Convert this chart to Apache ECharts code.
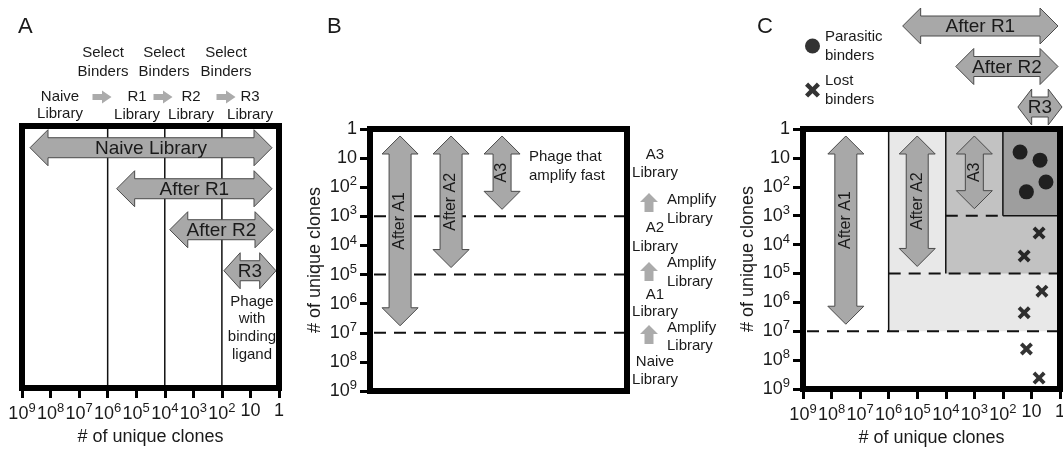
<!DOCTYPE html>
<html><head><meta charset="utf-8">
<script src="https://cdn.jsdelivr.net/npm/echarts@6/dist/echarts.min.js"></script>
<style>html,body{margin:0;padding:0;background:#fff}#c{width:1063px;height:449px}</style>
</head><body><div id="c"></div>
<script>
// ---------------- data ----------------
const tickValues = [1, 10, 1e2, 1e3, 1e4, 1e5, 1e6, 1e7, 1e8, 1e9];
const axisTitle = '# of unique clones';

// Panel A: selection rounds (range of unique clones)
const aArrowNames = ['Naive Library', 'After R1', 'After R2', 'R3'];
const aArrowFrom = [1e9, 1e6, 1e4, 1e2];
const aArrowTo = [1, 1, 1, 1];
const aRoundLines = [1e6, 1e4, 1e2];

// Panel B: amplification rounds
const bArrowNames = ['After A1', 'After A2', 'A3'];
const bArrowFrom = [1, 1, 1];
const bArrowTo = [1e7, 1e5, 1e3];
const bDashed = [1e3, 1e5, 1e7];

// Panel C: combined
const cRegionX = [1e6, 1e4, 1e2];      // left edge of each zone
const cRegionY = [1e7, 1e5, 1e3];      // bottom edge of each zone
const cHeaderNames = ['After R1', 'After R2', 'R3'];
const cHeaderFrom = [1e6, 1e4, 1e2];
const cHeaderTo = [1, 1, 1];
const cArrowNames = ['After A1', 'After A2', 'A3'];
const cArrowFrom = [1, 1, 1];
const cArrowTo = [1e7, 1e5, 1e3];
const parasiticX = [25, 5, 3.1, 15];
const parasiticY = [6.3, 12, 68, 150];
const lostX = [5.4, 18, 4.3, 18, 15, 5.4];
const lostY = [4000, 25000, 4.1e5, 2.3e6, 4.1e7, 4.2e8];

// ---------------- helpers ----------------
const lg = Math.log10;
const FONT = '"Liberation Sans", Arial, Helvetica, sans-serif';
const TXT = '#1a1a1a';
const ARROW_FILL = '#a8a8a8', ARROW_STROKE = '#4a4a4a';
const FLOW_FILL = '#ababab';
const CROSS = 'path://M0,2.5 L2.5,0 L6,3.5 L9.5,0 L12,2.5 L8.5,6 L12,9.5 L9.5,12 L6,8.5 L2.5,12 L0,9.5 L3.5,6 Z';

function hArrowPts(x1, x2, yc, bh, hh, hl) {
  return [[x1,yc],[x1+hl,yc-hh],[x1+hl,yc-bh],[x2-hl,yc-bh],[x2-hl,yc-hh],[x2,yc],
          [x2-hl,yc+hh],[x2-hl,yc+bh],[x1+hl,yc+bh],[x1+hl,yc+hh]];
}
function vArrowPts(xc, y1, y2, bw, hw, hl) {
  return [[xc,y1],[xc+hw,y1+hl],[xc+bw,y1+hl],[xc+bw,y2-hl],[xc+hw,y2-hl],[xc,y2],
          [xc-hw,y2-hl],[xc-bw,y2-hl],[xc-bw,y1+hl],[xc-hw,y1+hl]];
}
function fmtTick(v) {
  const e = Math.round(lg(tickValues[v]));
  if (e === 0) return '1';
  if (e === 1) return '10';
  return '10{s|' + e + '}';
}
function logAxis(gi, isX) {
  return {
    gridIndex: gi, type: 'value', min: 0, max: 9, interval: 1, inverse: true,
    axisLine: {show: false, onZero: false},
    axisTick: {show: true, length: 10, lineStyle: {color: '#000', width: 3}},
    splitLine: {show: false},
    axisLabel: {
      margin: isX ? 14 : 13, fontSize: 18, color: TXT, fontFamily: FONT,
      formatter: fmtTick,
      rich: {s: {fontSize: 13, padding: [0, 0, 11, 0], color: TXT, fontFamily: FONT}}
    },
    name: axisTitle, nameLocation: 'middle', nameGap: isX ? 39 : 46,
    nameTextStyle: {fontSize: 18, color: TXT, fontFamily: FONT}
  };
}
function frameSeries(gi) {
  return {
    type: 'custom', xAxisIndex: gi, yAxisIndex: gi, z: 20, silent: true, clip: false,
    data: [[0, 0]],
    renderItem: (p, api) => {
      const c = p.coordSys;
      return {type: 'rect', shape: {x: c.x, y: c.y, width: c.width, height: c.height},
              style: {fill: 'none', stroke: '#000', lineWidth: 6, lineJoin: 'miter'}};
    }
  };
}
function arrowText(text, x, y, size, rot) {
  return {type: 'text', x: x, y: y, rotation: rot || 0,
          style: {text: text, fontSize: size, fontFamily: FONT, fill: TXT,
                  align: 'center', verticalAlign: 'middle'}};
}

// ---------------- series ----------------
const series = [];

// Panel A: round boundary lines
series.push({
  type: 'custom', xAxisIndex: 0, yAxisIndex: 0, z: 2, silent: true, clip: false,
  data: aRoundLines.map(v => [lg(v), 0]),
  renderItem: (p, api) => {
    const c = p.coordSys;
    const x = api.coord([api.value(0), 0])[0];
    return {type: 'line', shape: {x1: x, y1: c.y, x2: x, y2: c.y + c.height},
            style: {stroke: '#111', lineWidth: 1.5}};
  }
});
// Panel A: horizontal double arrows
series.push({
  type: 'custom', xAxisIndex: 0, yAxisIndex: 0, z: 3, silent: true, clip: false,
  encode: {x: [0, 1], y: 2},
  data: aArrowNames.map((n, i) => [lg(aArrowFrom[i]), lg(aArrowTo[i]), i]),
  renderItem: (p, api) => {
    const i = p.dataIndex;
    const insL = [8, 9, 5, 2][i], insR = [7, 7, 6, 3][i];
    const p1 = api.coord([api.value(0), api.value(2)]);
    const p2 = api.coord([api.value(1), api.value(2)]);
    const xl = Math.min(p1[0], p2[0]) + insL, xr = Math.max(p1[0], p2[0]) - insR;
    const yc = p1[1];
    const hl = Math.min(18, (xr - xl) / 3.2);
    return {type: 'group', children: [
      {type: 'polygon', shape: {points: hArrowPts(xl, xr, yc, 10, 18, hl)},
       style: {fill: ARROW_FILL, stroke: ARROW_STROKE, lineWidth: 1}},
      arrowText(aArrowNames[i], (xl + xr) / 2, yc + 1, 19)
    ]};
  }
});
series.push(frameSeries(0));

// Panel B: dashed library limits
series.push({
  type: 'custom', xAxisIndex: 1, yAxisIndex: 1, z: 2, silent: true, clip: false,
  data: bDashed.map(v => [0, lg(v)]),
  renderItem: (p, api) => {
    const c = p.coordSys;
    const y = api.coord([0, api.value(1)])[1];
    return {type: 'line', shape: {x1: c.x + 4, y1: y, x2: c.x + c.width, y2: y},
            style: {stroke: '#111', lineWidth: 2, lineDash: [12, 8]}};
  }
});
// Panel B: vertical arrows
series.push({
  type: 'custom', xAxisIndex: 1, yAxisIndex: 1, z: 3, silent: true, clip: false,
  encode: {x: 0, y: [1, 2]},
  data: bArrowNames.map((n, i) => [i, lg(bArrowFrom[i]), lg(bArrowTo[i])]),
  renderItem: (p, api) => {
    const i = p.dataIndex;
    const t = api.coord([api.value(0), api.value(1)]);
    const b = api.coord([api.value(0), api.value(2)]);
    const y1 = t[1] + 7, y2 = b[1] - 7, xc = t[0];
    const bw = i === 2 ? 9 : 11;
    const shift = i === 0 ? -10 : 0;
    return {type: 'group', children: [
      {type: 'polygon', shape: {points: vArrowPts(xc, y1, y2, bw, 18, 18)},
       style: {fill: ARROW_FILL, stroke: ARROW_STROKE, lineWidth: 1}},
      arrowText(bArrowNames[i], xc, (y1 + y2) / 2 + shift, 16, Math.PI / 2)
    ]};
  }
});
series.push(frameSeries(1));

// Panel C: shaded zones
const cZoneColors = ['#e8e8e8', '#c2c2c2', '#9e9e9e'];
series.push({
  type: 'custom', xAxisIndex: 2, yAxisIndex: 2, z: 1, silent: true, clip: false,
  data: cRegionX.map((v, i) => [lg(v), lg(cRegionY[i])]),
  renderItem: (p, api) => {
    const a = api.coord([api.value(0), 0]);
    const b = api.coord([0, api.value(1)]);
    return {type: 'rect', shape: {x: a[0], y: a[1], width: b[0] - a[0], height: b[1] - a[1]},
            style: {fill: cZoneColors[p.dataIndex]}};
  }
});
// Panel C: zone boundaries
series.push({
  type: 'custom', xAxisIndex: 2, yAxisIndex: 2, z: 2, silent: true, clip: false,
  data: cRegionX.map((v, i) => [lg(v), lg(cRegionY[i])]),
  renderItem: (p, api) => {
    const i = p.dataIndex, n = cRegionX.length;
    const xl = api.value(0), yb = api.value(1);
    const solid = {stroke: '#111', lineWidth: 1.5};
    const dash = {stroke: '#111', lineWidth: 2, lineDash: [12, 8]};
    const ch = [];
    const a = api.coord([xl, 0]), b = api.coord([xl, yb]);
    ch.push({type: 'line', shape: {x1: a[0], y1: a[1], x2: b[0], y2: b[1]}, style: solid});
    const dx0 = i === 0 ? 9 : lg(cRegionX[i - 1]);
    const dx1 = i === n - 1 ? xl : 0;
    const d0 = api.coord([dx0, yb]), d1 = api.coord([dx1, yb]);
    ch.push({type: 'line', shape: {x1: d0[0] + (i === 0 ? 4 : 0), y1: d0[1], x2: d1[0], y2: d1[1]}, style: dash});
    if (i === n - 1) {
      const e = api.coord([0, yb]);
      ch.push({type: 'line', shape: {x1: b[0], y1: b[1], x2: e[0], y2: e[1]}, style: solid});
    }
    return {type: 'group', children: ch};
  }
});
// Panel C: vertical arrows centred in each zone column
const cColEdges = [1e9].concat(cRegionX);
series.push({
  type: 'custom', xAxisIndex: 2, yAxisIndex: 2, z: 3, silent: true, clip: false,
  encode: {x: 0, y: [1, 2]},
  data: cArrowNames.map((n, i) => [(lg(cColEdges[i]) + lg(cColEdges[i + 1])) / 2, lg(cArrowFrom[i]), lg(cArrowTo[i])]),
  renderItem: (p, api) => {
    const i = p.dataIndex;
    const t = api.coord([api.value(0), api.value(1)]);
    const b = api.coord([api.value(0), api.value(2)]);
    const y1 = t[1] + 7, y2 = b[1] - 7, xc = t[0];
    const bw = i === 2 ? 9 : 11;
    const shift = i === 0 ? -10 : 0;
    return {type: 'group', children: [
      {type: 'polygon', shape: {points: vArrowPts(xc, y1, y2, bw, 18, 18)},
       style: {fill: ARROW_FILL, stroke: ARROW_STROKE, lineWidth: 1}},
      arrowText(cArrowNames[i], xc, (y1 + y2) / 2 + shift, 16, Math.PI / 2)
    ]};
  }
});
// Panel C: selection-round arrows above the plot
series.push({
  type: 'custom', xAxisIndex: 2, yAxisIndex: 2, z: 3, silent: true, clip: false,
  encode: {x: [0, 1]},
  data: cHeaderNames.map((n, i) => [lg(cHeaderFrom[i]), lg(cHeaderTo[i]), i]),
  renderItem: (p, api) => {
    const i = p.dataIndex;
    const insL = [14, 10, 15][i], insR = [2, 2, -2][i];
    const p1 = api.coord([api.value(0), 0]);
    const p2 = api.coord([api.value(1), 0]);
    const xl = Math.min(p1[0], p2[0]) + insL, xr = Math.max(p1[0], p2[0]) - insR;
    const yc = p1[1] - 103 + i * 40.5;
    const hl = Math.min(18, (xr - xl) / 3.2);
    return {type: 'group', children: [
      {type: 'polygon', shape: {points: hArrowPts(xl, xr, yc, 10, 18, hl)},
       style: {fill: ARROW_FILL, stroke: ARROW_STROKE, lineWidth: 1}},
      arrowText(cHeaderNames[i], (xl + xr) / 2, yc + 1, 19)
    ]};
  }
});
series.push({
  name: 'Parasitic binders', type: 'scatter', xAxisIndex: 2, yAxisIndex: 2, z: 4, silent: true,
  symbol: 'circle', symbolSize: 15, itemStyle: {color: '#000'},
  data: parasiticX.map((x, i) => [lg(x), lg(parasiticY[i])])
});
series.push({
  name: 'Lost binders', type: 'scatter', xAxisIndex: 2, yAxisIndex: 2, z: 4, silent: true,
  symbol: CROSS, symbolSize: 13, itemStyle: {color: '#000'},
  data: lostX.map((x, i) => [lg(x), lg(lostY[i])])
});
series.push(frameSeries(2));

// ---------------- annotations (layout) ----------------
function gText(text, x, y, size, align, lh) {
  return {type: 'text', x: x, y: y, silent: true,
          style: {text: text, fontSize: size, fontFamily: FONT, fill: TXT,
                  align: align || 'center', verticalAlign: 'middle', lineHeight: lh || 18}};
}
function rightArrow(cx, cy) {
  return {type: 'polygon', silent: true,
          shape: {points: [[cx-9.5,cy-3],[cx,cy-3],[cx,cy-6.5],[cx+9.5,cy],[cx,cy+6.5],[cx,cy+3],[cx-9.5,cy+3]]},
          style: {fill: FLOW_FILL}};
}
function upArrow(cx, y1, y2) {
  const hl = 9;
  return {type: 'polygon', silent: true,
          shape: {points: [[cx,y1],[cx+9,y1+hl],[cx+4.5,y1+hl],[cx+4.5,y2],[cx-4.5,y2],[cx-4.5,y1+hl],[cx-9,y1+hl]]},
          style: {fill: FLOW_FILL}};
}
const graphic = [
  gText('A', 18, 27, 22, 'left'),
  gText('B', 327, 27, 22, 'left'),
  gText('C', 757, 27, 22, 'left'),
  // A header
  gText('Select\nBinders', 103, 62, 15, 'center', 19),
  gText('Select\nBinders', 164, 62, 15, 'center', 19),
  gText('Select\nBinders', 226, 62, 15, 'center', 19),
  gText('Naive\nLibrary', 60, 105, 15, 'center', 17),
  gText('R1\nLibrary', 137, 106, 15, 'center', 18),
  gText('R2\nLibrary', 191, 106, 15, 'center', 18),
  gText('R3\nLibrary', 250, 106, 15, 'center', 18),
  rightArrow(102, 97), rightArrow(163, 97), rightArrow(226, 97),
  gText('Phage\nwith\nbinding\nligand', 252, 328, 15, 'center', 17.7),
  // B annotations
  gText('Phage that\namplify fast', 529, 166, 15, 'left', 19),
  gText('A3\nLibrary', 655, 164, 15, 'center', 18),
  gText('Amplify\nLibrary', 667, 209, 15, 'left', 19),
  gText('A2\nLibrary', 655, 237, 15, 'center', 19),
  gText('Amplify\nLibrary', 667, 272, 15, 'left', 19),
  gText('A1\nLibrary', 655, 303, 15, 'center', 17),
  gText('Amplify\nLibrary', 667, 337, 15, 'left', 18),
  gText('Naive\nLibrary', 655, 371, 15, 'center', 18),
  upArrow(649, 193, 212), upArrow(649, 262, 281), upArrow(649, 325, 344)
];

const option = {
  animation: false,
  backgroundColor: '#fff',
  textStyle: {fontFamily: FONT},
  grid: [
    {left: 22, top: 126, width: 257, height: 262, outerBoundsMode: 'none'},
    {left: 370, top: 129, width: 257, height: 262, outerBoundsMode: 'none'},
    {left: 803, top: 129, width: 257, height: 260, outerBoundsMode: 'none'}
  ],
  xAxis: [
    logAxis(0, true),
    {gridIndex: 1, type: 'value', min: -0.59, max: 4.45, show: false},
    logAxis(2, true)
  ],
  yAxis: [
    {gridIndex: 0, type: 'value', min: -0.53, max: 5.86, inverse: true, show: false},
    logAxis(1, false),
    logAxis(2, false)
  ],
  legend: {
    data: [{name: 'Parasitic binders', icon: 'circle'}, {name: 'Lost binders', icon: CROSS}],
    orient: 'vertical', left: 800, top: 22, itemGap: 6, itemWidth: 15, itemHeight: 15,
    selectedMode: false,
    formatter: n => n.replace(' ', '\n'),
    textStyle: {fontSize: 15, lineHeight: 19, color: TXT, fontFamily: FONT},
    itemStyle: {color: '#000'}
  },
  graphic: graphic,
  series: series
};
const chart = echarts.init(document.getElementById('c'), null, {renderer: 'canvas'});
chart.setOption(option);
</script>
</body></html>
